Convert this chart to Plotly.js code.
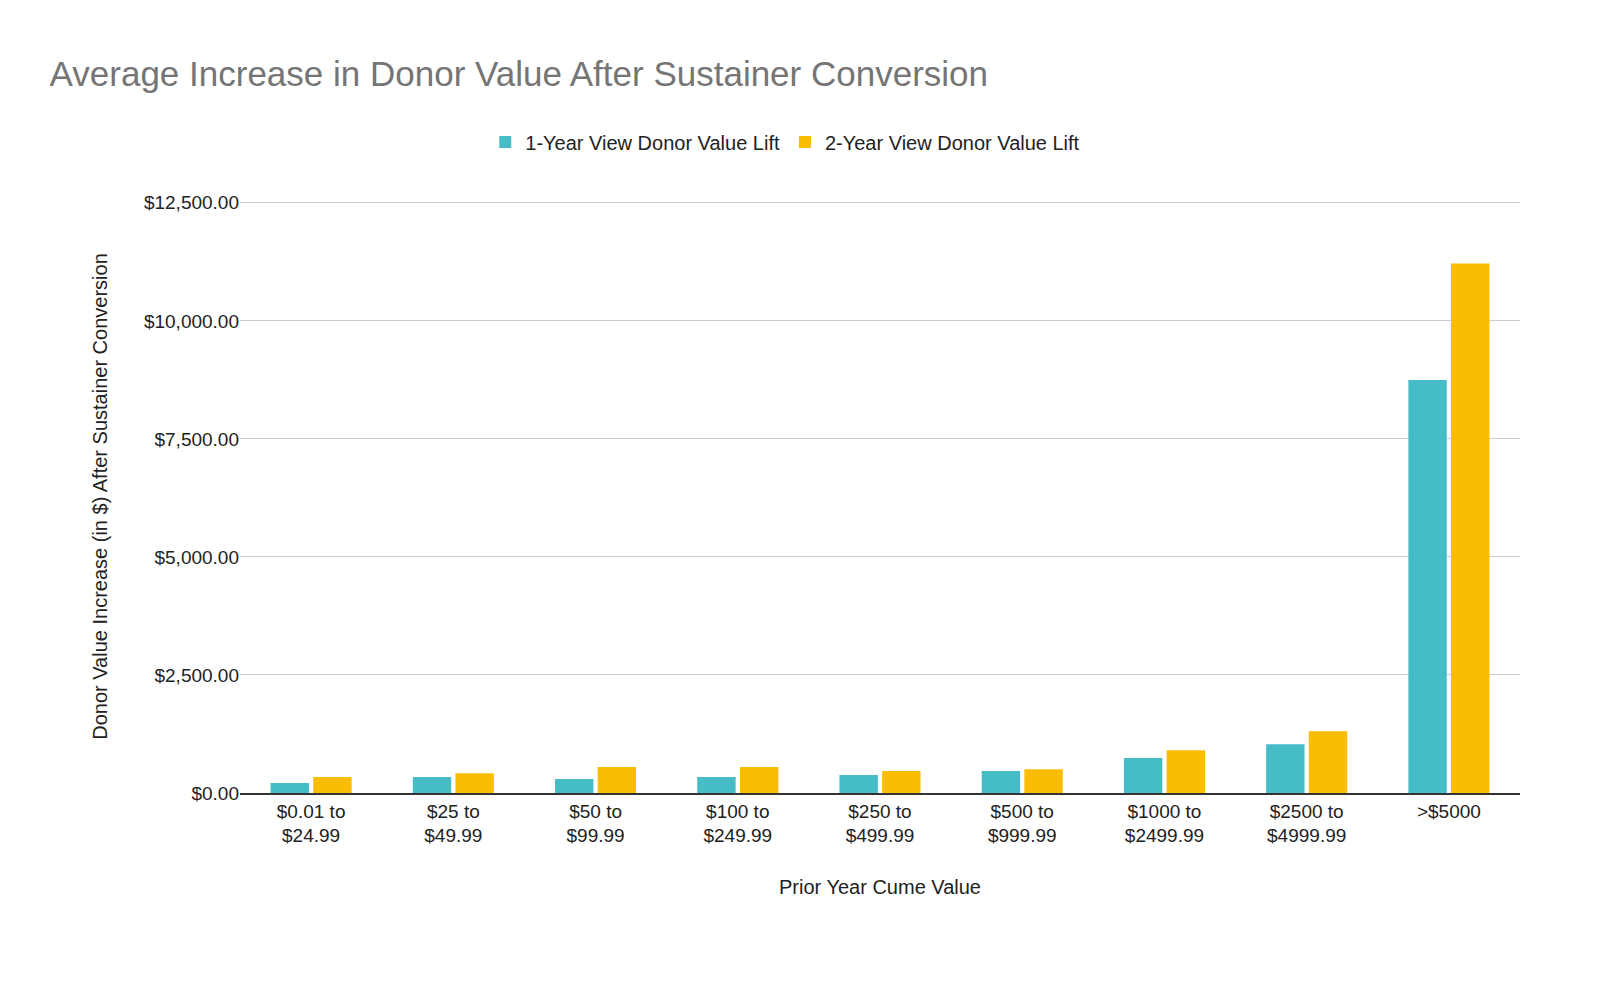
<!DOCTYPE html>
<html>
<head>
<meta charset="utf-8">
<script src="https://cdn.plot.ly/plotly-3.0.1.min.js"></script>
<style>body{margin:0;background:#fff}#chart{width:1600px;height:991px}</style>
</head>
<body>
<div id="chart"></div>
<script>
const categories = ['$0.01 to<br>$24.99', '$25 to<br>$49.99', '$50 to<br>$99.99', '$100 to<br>$249.99',
  '$250 to<br>$499.99', '$500 to<br>$999.99', '$1000 to<br>$2499.99', '$2500 to<br>$4999.99', '>$5000'];
const oneYear = [210, 340, 295, 340, 380, 465, 740, 1035, 8750];
const twoYear = [340, 420, 550, 550, 465, 505, 905, 1310, 11215];
const tickVals = [0, 2500, 5000, 7500, 10000, 12500];
const tickText = ['$0.00', '$2,500.00', '$5,000.00', '$7,500.00', '$10,000.00', '$12,500.00'];

const font = {family: '"Liberation Sans", Arial, sans-serif', color: '#222', size: 19};

const data = [
  {x: categories, y: oneYear, type: 'bar', name: '1-Year View Donor Value Lift', marker: {color: '#46bdc6'}},
  {x: categories, y: twoYear, type: 'bar', name: '2-Year View Donor Value Lift', marker: {color: '#fbbc04'}}
];

const layout = {
  width: 1600, height: 991,
  font: font,
  title: {text: 'Average Increase in Donor Value After Sustainer Conversion', x: 0.031, xanchor: 'left',
    y: 0.926, yanchor: 'middle',
    font: {family: '"Liberation Sans", Arial, sans-serif', size: 35, color: '#757575'}},
  legend: {orientation: 'h', x: 0.426, xanchor: 'center', y: 1.098, yanchor: 'middle', font: {size: 20},
    itemwidth: 30},
  margin: {l: 240, r: 80, t: 200, b: 198},
  bargap: 0.4, bargroupgap: 0.1,
  xaxis: {title: {text: 'Prior Year Cume Value', font: {size: 20}, standoff: 35}, tickfont: {size: 19},
    showline: true, linecolor: '#333', linewidth: 1.5},
  yaxis: {title: {text: 'Donor Value Increase (in $) After Sustainer Conversion', font: {size: 20}, standoff: 30},
    range: [0, 12560], tickvals: tickVals, ticktext: tickText, tickfont: {size: 19},
    gridcolor: '#ccc', zeroline: false},
  plot_bgcolor: '#fff', paper_bgcolor: '#fff'
};

Plotly.newPlot('chart', data, layout, {displayModeBar: false});
</script>
</body>
</html>
